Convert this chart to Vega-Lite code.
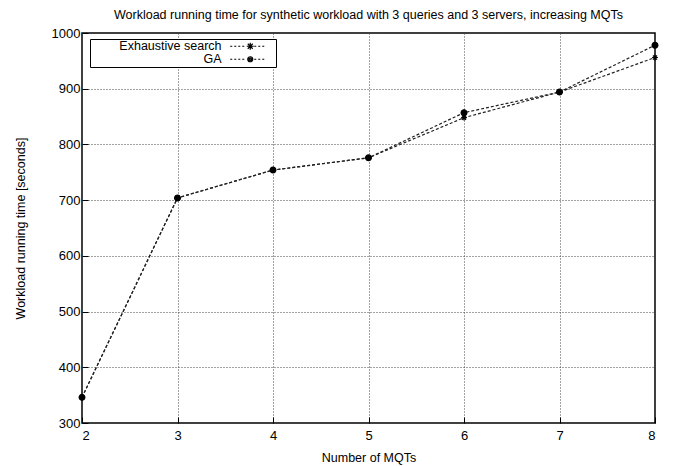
{
  "$schema": "https://vega.github.io/schema/vega-lite/v6.json",
  "width": 573,
  "height": 390,
  "autosize": "none",
  "padding": {"left": 82, "top": 33, "right": 19, "bottom": 43},
  "background": "white",
  "title": {
    "text": "Workload running time for synthetic workload with 3 queries and 3 servers, increasing MQTs",
    "font": "Liberation Sans",
    "fontSize": 12.5,
    "fontWeight": "normal",
    "color": "#000",
    "offset": 6,
    "anchor": "middle",
    "dx": 0
  },
  "config": {
    "view": {"stroke": "#000", "strokeWidth": 1.5},
    "axis": {
      "labelFont": "Liberation Sans",
      "titleFont": "Liberation Sans",
      "labelFontSize": 13,
      "titleFontSize": 12.5,
      "titleFontWeight": "normal",
      "labelColor": "#000",
      "titleColor": "#000",
      "domain": false,
      "tickColor": "#000",
      "tickSize": -6,
      "gridColor": "#444",
      "gridDash": [1, 2],
      "gridWidth": 1,
      "gridOpacity": 1
    }
  },
  "data": {
    "values": [
      {"mqts": 2, "time": 346, "method": "Exhaustive search"},
      {"mqts": 3, "time": 704, "method": "Exhaustive search"},
      {"mqts": 4, "time": 754, "method": "Exhaustive search"},
      {"mqts": 5, "time": 776, "method": "Exhaustive search"},
      {"mqts": 6, "time": 848, "method": "Exhaustive search"},
      {"mqts": 7, "time": 894, "method": "Exhaustive search"},
      {"mqts": 8, "time": 956, "method": "Exhaustive search"},
      {"mqts": 2, "time": 346, "method": "GA"},
      {"mqts": 3, "time": 704, "method": "GA"},
      {"mqts": 4, "time": 754, "method": "GA"},
      {"mqts": 5, "time": 776, "method": "GA"},
      {"mqts": 6, "time": 857, "method": "GA"},
      {"mqts": 7, "time": 894, "method": "GA"},
      {"mqts": 8, "time": 978, "method": "GA"}
    ]
  },
  "encoding": {
    "x": {
      "field": "mqts",
      "type": "quantitative",
      "scale": {"domain": [2, 8], "nice": false, "zero": false},
      "axis": {"title": "Number of MQTs", "values": [2, 3, 4, 5, 6, 7, 8], "labelPadding": 12, "titlePadding": 9}
    },
    "y": {
      "field": "time",
      "type": "quantitative",
      "scale": {"domain": [300, 1000], "nice": false, "zero": false},
      "axis": {"title": "Workload running time [seconds]", "format": "d", "values": [300, 400, 500, 600, 700, 800, 900, 1000], "labelPadding": 8, "titlePadding": 24}
    }
  },
  "layer": [
    {
      "mark": {"type": "line", "color": "#222", "strokeWidth": 1.2, "strokeDash": [3, 2]},
      "encoding": {"detail": {"field": "method"}}
    },
    {
      "mark": {"type": "point", "filled": true, "opacity": 1, "color": "#000", "stroke": "#000", "strokeWidth": 1.2, "size": 34},
      "encoding": {
        "shape": {
          "field": "method",
          "type": "nominal",
          "scale": {
            "domain": ["Exhaustive search", "GA"],
            "range": ["M-1,0L1,0M0,-1L0,1M-0.7,-0.7L0.7,0.7M-0.7,0.7L0.7,-0.7", "circle"]
          },
          "legend": null
        }
      }
    },
    {
      "transform": [{"filter": "datum.time < 0"}],
      "mark": {"type": "point", "filled": false, "opacity": 1, "color": "#000", "strokeWidth": 1, "size": 100},
      "encoding": {
        "shape": {
          "field": "method",
          "type": "nominal",
          "scale": {
            "domain": ["Exhaustive search", "GA"],
            "range": [
              "M-1,0M26.6,0h0.4M27.4,0h0.4M28.2,0h0.4M29.0,0h0.4M31.4,0h0.4M32.2,0h0.4M33.0,0h0.4M29.9,0h1.4M30.6,-0.7v1.4M30.1,-0.5l1,1M30.1,0.5l1,-1M35.0,0",
              "M-1,0M26.6,0h0.4M27.4,0h0.4M28.2,0h0.4M29.0,0h0.4M31.4,0h0.4M32.2,0h0.4M33.0,0h0.4M31.1,0A0.5,0.5,0,1,1,30.1,0A0.5,0.5,0,1,1,31.1,0M30.85,0A0.25,0.25,0,1,1,30.35,0A0.25,0.25,0,1,1,30.85,0M30.7,0h-0.2M35.0,0"
            ]
          },
          "legend": {
            "title": null,
            "orient": "none",
            "legendX": 8,
            "legendY": 6,
            "fillColor": "white",
            "strokeColor": "#000",
            "padding": 1,
            "labelFont": "Liberation Sans",
            "labelFontSize": 12.5,
            "labelColor": "#000",
            "labelAlign": "right",
            "labelOffset": 118,
            "rowPadding": -2.5,
            "symbolSize": 100,
            "symbolStrokeWidth": 1.2
          }
        }
      }
    }
  ],
  "resolve": {"scale": {"shape": "independent"}, "legend": {"shape": "independent"}}
}
